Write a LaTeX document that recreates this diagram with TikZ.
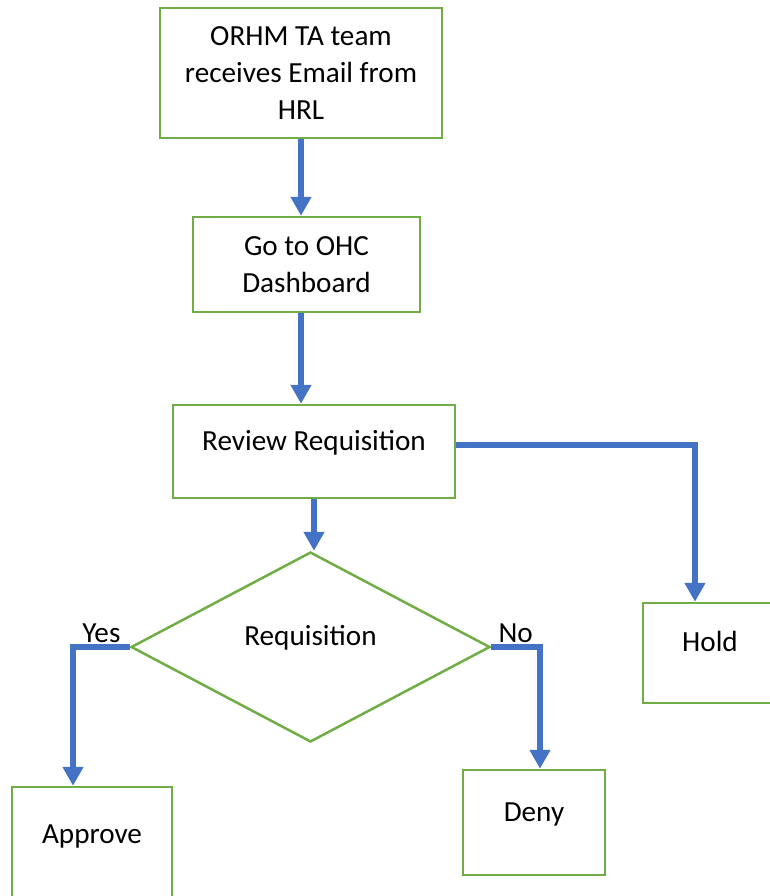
\documentclass[tikz,border=0pt]{standalone}
\usepackage{fontspec}
\setmainfont{Carlito}
\usepackage{tikz}
\usetikzlibrary{arrows.meta,positioning,shapes.geometric}
\usepackage{xcolor}
\definecolor{boxgreen}{HTML}{70AD47}
\definecolor{flowblue}{HTML}{4472C4}

\begin{document}
\begin{tikzpicture}[font=\fontsize{16.6}{21.3}\selectfont,
	flow/.style={draw=flowblue,line width=0.12cm,-{Triangle[width=0.4cm,length=0.38cm]}},
	topped/.style={text height=0.42cm,text depth=0.48cm}]
	\useasboundingbox (0,0) rectangle (15.38,-17.92);
	\begin{scope}[every node/.style={draw=boxgreen,line width=0.05cm,align=center,inner sep=0pt}]
		\node[minimum width=5.64cm,minimum height=2.6cm] (email) at (6.02,-1.46) {ORHM TA team\\receives Email from\\HRL};
		\node[minimum width=4.54cm,minimum height=1.9cm] (dash) at (6.13,-5.29) {Go to OHC\\Dashboard};
		\node[topped,minimum width=5.64cm,minimum height=1.86cm] (review) at (6.28,-9.03) {Review Requisition};
		\node[topped,diamond,minimum width=7.18cm,minimum height=3.8cm] (decide) at (6.21,-12.94) {Requisition};
		
		\node[topped,minimum width=2.68cm,minimum height=2cm] (hold) at (14.2,-13.06) {Hold};
		\node[topped,minimum width=3.2cm,minimum height=2.3cm] (approve) at (1.84,-16.89) {Approve};
		\node[topped,minimum width=2.84cm,minimum height=2.1cm] (deny) at (10.68,-16.45) {Deny};
	\end{scope}
	\begin{scope}[every node/.style={inner sep=1pt}]
		\draw[flow] (email.south) -- (email.south |- dash.north);
		\draw[flow] (dash.south -| email.south) -- (email.south |- review.north);
		\draw[flow] (review.south) -- (review.south |- decide.north);
		
		\draw[flow] ([yshift=0.13cm]review.east) -| ([xshift=-0.3cm]hold.north);
		
		\draw[flow] (decide.west) -| node[pos=0.25,above] {Yes} ([xshift=-0.38cm]approve.north);
		\draw[flow] (decide.east) -| node[pos=0.25,above] {No} ([xshift=0.12cm]deny.north);
	\end{scope}
\end{tikzpicture}
\end{document}
